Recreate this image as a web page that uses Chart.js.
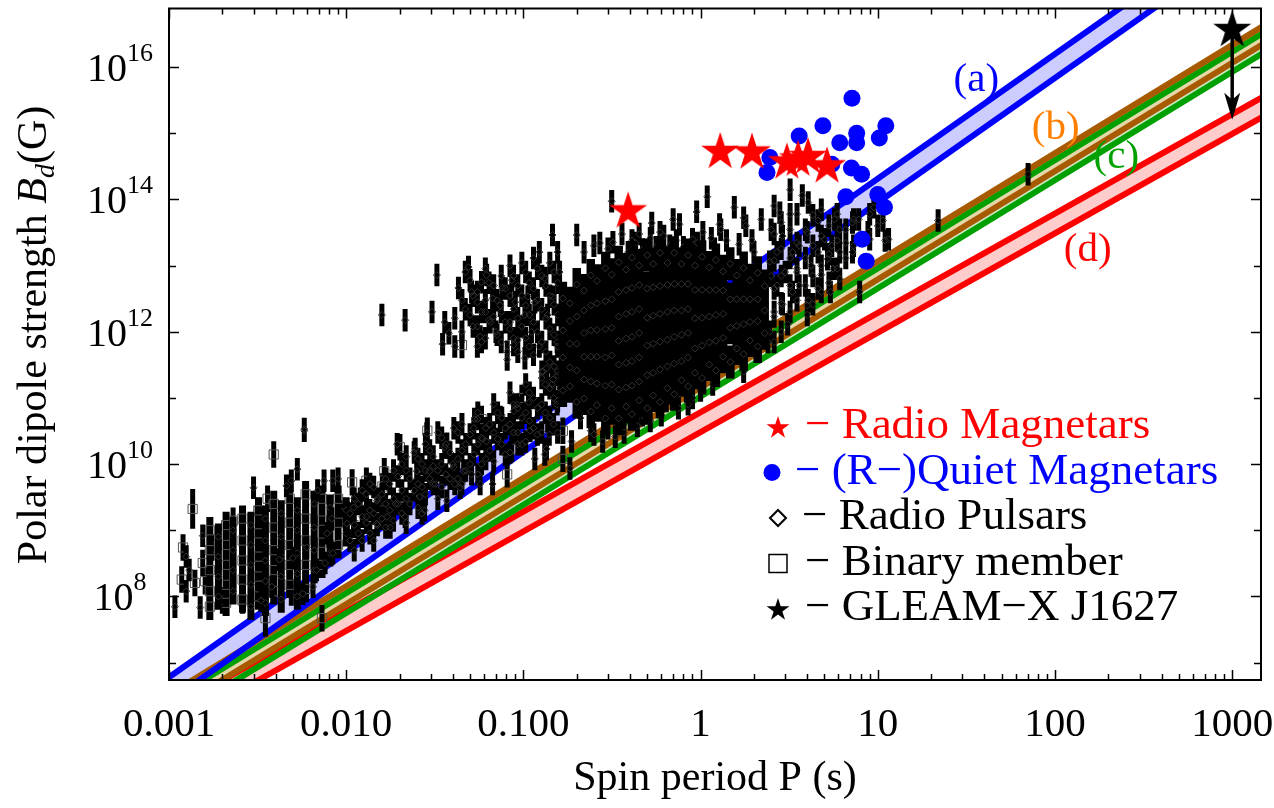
<!DOCTYPE html>
<html>
<head>
<meta charset="utf-8">
<script src="https://cdn.jsdelivr.net/npm/chart.js@4.4.0/dist/chart.umd.min.js"></script>
<style>
  html, body { margin: 0; padding: 0; background: #fff; }
  #wrap { width: 1274px; height: 808px; position: relative; }
</style>
</head>
<body>
<div id="wrap"><canvas id="bdChart"></canvas></div>
<script>
// axes
const xTicks = [0.001, 0.01, 0.1, 1, 10, 100, 1000];
const xTickLabels = ['0.001', '0.010', '0.100', '1', '10', '100', '1000'];
const yTickPowers = [8, 10, 12, 14, 16];

// [P (s), Bd (G)]
const radioMagnetars = [[0.39, 7.1e13], [1.29, 5.6e14], [1.95, 5.5e14], [3.07, 3.9e14], [3.55, 4.3e14], [4.04, 4.7e14], [5.17, 3.4e14]];
const quietMagnetars = [[7.15, 3.4e15], [4.9, 1.3e15], [3.6, 9.1e14], [11.1, 1.3e15], [10.2, 8.5e14], [6.1, 7.2e14], [7.6, 1.0e15],
  [7.6, 7.2e14], [2.46, 4.3e14], [2.37, 2.55e14], [5.5, 3.4e14], [7.1, 3.0e14], [8.1, 2.4e14], [6.6, 1.1e14], [10.0, 1.19e14],
  [10.9, 7.6e13], [8.15, 2.5e13], [8.6, 1.17e13]];
const gleamX = [[1000, 3.9e16]];
const gleamRange = [1.6e15, 3.9e16];

// error bar half length (dex)
const pulsarErr = 0.17;
const mspErr = 0.2;
const coreErr = 0.25;

const radioPulsars = [
  [0.00108, 7e7], [0.00155, 8.3e8], [0.0015, 6.8e7], [0.003, 4.4e9], [0.0053, 8.4e9], [0.0058, 3.4e10], [0.0033, 8.7e7], [0.0038, 1.4e8],
  [0.0046, 4.7e9], [0.0049, 5.6e9], [0.0069, 4e9], [0.0075, 5.6e9], [0.0084, 5.6e9], [0.009, 6e9], [0.0042, 3.6e8], [0.005, 3.8e8],
  [0.0057, 1.1e8], [0.0065, 1.4e8], [0.0083, 1.5e9], [0.0078, 9e8], [0.0084, 4.5e8], [0.0076, 3.2e8], [0.006, 5.5e8], [0.0068, 2.5e8],
  [0.0101, 1.26e9], [0.011, 2.2e9], [0.013, 1.6e9], [0.0149, 1.26e9], [0.0149, 2.8e9], [0.017, 1.6e9], [0.0177, 1.1e9], [0.019, 2.5e9],
  [0.0215, 1.6e9], [0.0218, 1.3e10], [0.025, 7.8e9], [0.026, 3.2e9], [0.0277, 2e9], [0.0295, 7.8e9], [0.031, 9.3e9], [0.032, 5e9],
  [0.036, 1.8e10], [0.037, 2.8e9], [0.04, 1e10], [0.041, 5e9], [0.0194, 2e10], [0.0245, 1.7e10], [0.0285, 2.9e10], [0.046, 7.8e9],
  [0.044, 4.4e9], [0.051, 7e9], [0.057, 5e9], [0.067, 5e9], [0.053, 4.8e10], [0.055, 4.8e10], [0.062, 2.2e10], [0.059, 2.4e10],
  [0.088, 6.3e10], [0.093, 2e10], [0.107, 8.5e10], [0.109, 3.2e10], [0.116, 1.2e10], [0.132, 1.4e10], [0.14, 2.8e10], [0.135, 1.7e10],
  [0.155, 8e10], [0.16, 1.4e11], [0.147, 1.9e11], [0.176, 2.2e11], [0.183, 8.6e9], [0.187, 2.2e10], [0.21, 5e10], [0.25, 2.8e10],
  [0.28, 2.2e10], [0.33, 2.6e10], [0.34, 4e10], [0.129, 2.5e11], [0.135, 2.8e11], [0.145, 1.6e11], [0.092, 8e10], [0.0058, 3.2e10],
  [0.0159, 1.8e12], [0.0215, 1.5e12], [0.0305, 2e12], [0.0325, 7.2e12], [0.036, 1.4e12], [0.038, 9.5e11], [0.035, 6.5e11], [0.043, 4.6e12],
  [0.049, 9.5e12], [0.051, 4e12], [0.055, 2.8e12], [0.058, 5.6e12], [0.061, 2e12], [0.062, 7.2e12], [0.065, 1.4e12], [0.067, 3.2e12],
  [0.07, 1e12], [0.074, 2.5e12], [0.076, 4.6e12], [0.081, 3.8e11], [0.081, 5e11], [0.084, 1.4e12], [0.086, 6e12], [0.09, 2.8e12],
  [0.093, 7.5e11], [0.098, 1.1e13], [0.102, 1.8e12], [0.102, 4e11], [0.106, 3.4e12], [0.111, 1e12], [0.116, 2.8e12], [0.123, 1.6e13],
  [0.123, 6e11], [0.132, 6.5e12], [0.137, 1.8e12], [0.146, 2.9e13], [0.146, 3.4e12], [0.155, 7e11], [0.16, 8e12], [0.057, 8.5e11],
  [0.088, 6.3e11], [0.2, 2.9e13], [0.315, 9.4e13], [0.32, 2.25e13], [0.39, 1.6e13], [0.41, 2.4e13], [0.47, 1.75e13], [0.59, 3.2e13],
  [0.67, 2e13], [0.76, 4.2e13], [0.9, 2.5e13], [1.03, 3.2e13], [1.09, 1.1e14], [1.28, 4.2e13], [1.4, 2.4e13], [1.55, 7.6e13],
  [0.27, 2.2e13], [0.45, 3e13], [1.75, 5.3e13], [0.41, 4.8e10], [0.47, 5.5e10], [0.64, 9e10], [0.67, 1.2e11], [0.85, 8e10],
  [1.0, 1.3e11], [1.23, 2.8e11], [1.17, 1.6e11], [1.5, 3.2e11], [1.75, 2.5e11], [1.6, 6.3e11], [2.1, 9.5e11], [2.4, 7e11],
  [3.2, 1.4e14], [3.2, 6e13], [3.75, 1.15e14], [4.05, 9e13], [2.8, 6.3e13], [2.5, 3.5e13], [2.2, 5e13], [1.8, 4e13], [1.3, 3.5e13],
  [4.3, 5.8e13], [4.6, 4.8e13], [5.0, 2.5e13], [5.7, 5e13], [6.1, 3.5e13], [6.6, 2.2e13], [7.2, 4.5e13], [7.8, 5e13], [8.8, 3.2e13],
  [9.5, 7.6e13], [10.7, 4.8e13], [11.5, 2.5e13], [7.2, 1.6e13], [6.6, 1.3e13], [6.1, 1.6e13], [5.5, 2e13], [5.2, 1.25e13],
  [4.6, 1.6e13], [4.0, 3.2e13], [3.6, 2e13], [3.3, 1.6e13], [2.9, 2.8e13], [2.7, 1.6e13], [2.45, 1.15e13], [4.2, 1e13], [4.8, 7.3e12],
  [5.6, 9e12], [6.1, 6.3e12], [5.4, 4e12], [4.6, 4.5e12], [4.05, 3e12], [3.6, 5e12], [3.3, 4e12], [2.9, 2.6e12], [3.1, 1.3e12],
  [4.0, 2.5e12], [2.45, 1e12], [2.6, 2e12], [4.0, 1.8e12], [7.9, 4e12], [11, 2.4e13], [21.9, 4.8e13], [70.5, 2.4e14], [3.0, 8e12],
  [3.5, 9e12], [2.7, 5e12], [2.5, 7e12], [0.00125, 1.2e8], [0.00125, 4e8], [0.0013, 2.5e8],
  [0.22, 1.6e13], [0.25, 2e13], [0.3, 1.8e13], [0.36, 3e13], [0.43, 2.2e13], [0.52, 2.6e13], [0.56, 1.9e13], [0.62, 2.8e13],
  [0.73, 2.4e13], [0.8, 1.9e13], [0.96, 2.2e13], [1.15, 2.6e13], [1.2, 1.8e13], [1.65, 2.1e13], [1.95, 2.4e13], [2.0, 1.6e13],
  [0.7, 5e13], [0.95, 6.5e13], [0.53, 4.4e13], [0.3, 3.5e10], [0.37, 3e10], [0.44, 3.8e10], [0.52, 4.5e10], [0.6, 5.5e10],
  [0.75, 7e10], [0.9, 1e11], [0.24, 3.2e10]
];

const binaryMembers = [
  [0.00136, 2.1e9, 0.3], [0.0014, 1.6e8], [0.0016, 1.7e8], [0.00155, 3.2e8], [0.00175, 5.5e8], [0.002, 8.7e7], [0.0023, 1.4e9],
  [0.0026, 8.7e7], [0.0032, 1.95e9], [0.0039, 1.4e10], [0.0036, 3e9], [0.0035, 4.7e7, 0.28], [0.0073, 4.7e7], [0.0049, 1.15e8],
  [0.0108, 5.3e9], [0.013, 5.6e9], [0.0164, 7.8e9], [0.016, 4.6e9], [0.0201, 1.8e10], [0.0287, 3.2e10], [0.037, 1.9e10],
  [0.045, 6.3e11], [0.058, 4.8e10], [0.074, 4.8e10], [0.086, 1.7e10], [0.081, 7e9], [0.098, 1e11], [0.137, 4.8e10], [0.167, 3.2e10],
  [0.167, 1.2e10], [0.0159, 2e9], [0.012, 2.8e9], [0.0095, 1.8e9], [0.011, 1.2e9], [0.00118, 1.8e8], [0.0012, 5.5e8]
];

// crowded parts of the population, [P, [Bd...]]
const mspPulsarColumns = [
  [0.0019, [8e8, 4e8, 2e8, 1e8]], [0.0023, [1e9, 5e8, 2.5e8, 1.2e8]], [0.0029, [1.2e9, 6e8, 3e8, 1.5e8, 7e7]],
  [0.0035, [1.5e9, 7e8, 3.5e8, 1.7e8, 8e7]], [0.0043, [1.8e9, 8e8, 4e8, 2e8, 9e7]], [0.0053, [2e9, 1e9, 4.5e8, 2.2e8, 1e8]],
  [0.0066, [2.5e9, 1.1e9, 5e8, 2.5e8]], [0.0081, [2.2e9, 1e9, 4.5e8]], [0.01, [2e9, 9e8]]
];
const mspBinaryColumns = [
  [0.0017, [1e9, 5e8, 2.5e8, 1.2e8, 7e7]], [0.0021, [1.2e9, 6e8, 3e8, 1.5e8, 8e7]], [0.0026, [1.5e9, 7e8, 3.5e8, 1.8e8, 9e7]],
  [0.0032, [2e9, 9e8, 4e8, 2e8, 1e8]], [0.0039, [2.5e9, 1.1e9, 5e8, 2.5e8, 1.2e8]], [0.0048, [3e9, 1.3e9, 6e8, 3e8, 1.5e8]],
  [0.0059, [3.5e9, 1.5e9, 7e8, 3e8, 1.3e8]], [0.0073, [3e9, 1.4e9, 6.5e8, 3e8]], [0.009, [3e9, 1.3e9, 6e8]]
];
const midColumns = [
  [0.0111, [3e9, 1.2e9, 5e8]], [0.0123, [4e9, 1.6e9, 7e8]], [0.0136, [5e9, 2e9, 9e8]], [0.015, [3e9, 1.2e9]],
  [0.0167, [6e9, 2.5e9, 1.1e9]], [0.0185, [8e9, 3e9, 1.4e9]], [0.0206, [1e10, 4e9, 1.8e9]], [0.0229, [6e9, 2.5e9]],
  [0.0254, [1.2e10, 5e9, 2.2e9]], [0.028, [2e10, 8e9, 3.5e9]], [0.031, [1.3e10, 5e9]], [0.0346, [2.5e10, 1e10, 4.5e9]],
  [0.0385, [1.5e10, 6e9]], [0.0427, [3e10, 1.2e10, 6e9]], [0.0473, [2e10, 8e9]], [0.0525, [3.5e10, 1.4e10]],
  [0.058, [2.5e10, 1e10]], [0.0645, [4e10, 1.6e10]], [0.0715, [6e10, 2.4e10]], [0.079, [3.5e10, 1.4e10]],
  [0.088, [8e10, 3e10]], [0.098, [5e10, 2e10]], [0.108, [1.2e11, 4.5e10]], [0.12, [7e10, 2.8e10]],
  [0.133, [1.6e11, 6e10]], [0.148, [1e11, 4e10]],
  [0.0105, [1.8e9, 7e8]], [0.0117, [2.5e9, 9e8]], [0.013, [3.5e9, 1.3e9]], [0.0143, [4.5e9, 1.8e9, 7e8]],
  [0.0159, [3.5e9, 1.5e9]], [0.0176, [5e9, 2e9]], [0.0196, [6.5e9, 2.5e9]], [0.0218, [8e9, 3e9, 1.3e9]],
  [0.0242, [1.5e10, 4e9]], [0.0268, [1e10, 4.5e9, 1.8e9]], [0.0296, [1.6e10, 6e9]], [0.0329, [3e10, 8e9, 3e9]],
  [0.0365, [2e10, 7e9]], [0.0405, [3.5e10, 9e9]], [0.045, [4e10, 1.6e10, 5e9]], [0.05, [2.8e10, 1e10]],
  [0.0553, [6e10, 2e10, 7e9]], [0.0614, [3.5e10, 1.2e10]], [0.068, [8e10, 3e10, 1.1e10]], [0.0755, [5e10, 2e10]],
  [0.084, [1.2e11, 4e10, 1.5e10]], [0.093, [7e10, 3e10]], [0.103, [1.6e11, 6e10, 2.2e10]], [0.114, [1e11, 3.5e10]],
  [0.127, [2e11, 8e10, 3e10]], [0.141, [1.4e11, 5e10]], [0.156, [2.5e11, 9e10, 3e10]]
];
const cloudColumns = [
  [0.045, [3e12, 1e12]], [0.05, [6e12, 1.8e12]], [0.055, [4e12, 1.2e12, 6e11]], [0.061, [9e12, 3e12, 8e11]],
  [0.068, [5e12, 1.7e12]], [0.075, [7e12, 2e12, 7e11]], [0.084, [1e13, 3.5e12, 1.1e12]], [0.093, [5e12, 1.6e12, 5e11]],
  [0.103, [8e12, 2.5e12, 8e11]], [0.114, [1.3e13, 4.5e12, 1.4e12, 4.5e11]], [0.127, [7e12, 2.2e12, 7e11, 2.5e11]],
  [0.141, [1.1e13, 3.5e12, 1.1e12, 3.5e11]], [0.156, [1.6e13, 5.5e12, 1.8e12, 6e11, 2.2e11]],
  [0.041, [1.6e12, 6e11]], [0.047, [2.2e12, 8e12]], [0.052, [1.2e12, 3.5e12]], [0.058, [2e12, 7e11]],
  [0.064, [5.5e12, 1.5e12]], [0.071, [3e12, 9e11]], [0.079, [4.5e12, 1.4e12]], [0.088, [7e12, 2.2e12, 8e11]],
  [0.098, [3.5e12, 1.2e12]], [0.108, [5.5e12, 1.8e12, 6e11]], [0.12, [9e12, 3e12, 1e12]], [0.134, [5e12, 1.6e12, 5e11]],
  [0.149, [8e12, 2.6e12, 9e11, 3e11]]
];
const rightColumns = [
  [2.6, [8e13, 3e13, 1.2e13, 4.5e12, 1.7e12, 7e11]], [2.85, [4.5e13, 1.8e13, 7e12, 2.7e12, 1e12]],
  [3.2, [3.5e13, 1.3e13, 5e12, 2e12]], [3.5, [6e13, 2.2e13, 8e12, 3e12]], [3.9, [3.5e13, 1.3e13, 5e12]],
  [4.3, [2e13, 7e12, 2.6e12]], [4.8, [7e13, 2.8e13, 1e13, 4e12]], [5.3, [4e13, 1.5e13, 5.5e12]],
  [5.9, [6e13, 2.4e13, 9e12]], [6.6, [3.5e13]], [7.3, [5e13, 2e13]], [9.0, [6e13, 2.5e13]], [10, [4e13]]
];
const coreColumns = [
  [0.167, [3.2e12, 1.05e12, 4.1e11, 1.3e11]], [0.183, [2.7e12, 1.45e12, 6.6e11, 2.9e11, 1.5e11]],
  [0.2, [5.2e12, 1.7e12, 6.6e11, 2.6e11, 8.7e10]], [0.22, [4.2e12, 2.1e12, 9.6e11, 4.2e11, 1.9e11, 9.8e10]],
  [0.24, [7.1e12, 2.5e12, 1.05e12, 4.2e11, 1.77e11, 6.2e10]], [0.26, [5.9e12, 2.7e12, 1.07e12, 4.2e11, 1.65e11, 7.8e10]],
  [0.29, [9.1e12, 2.9e12, 1.1e12, 4.1e11, 1.54e11, 4.9e10]], [0.315, [7.3e12, 3.1e12, 1.15e12, 4.4e11, 1.6e11, 7e10]],
  [0.345, [1.12e13, 4e12, 1.7e12, 7.3e11, 3.2e11, 1.34e11, 4.9e10]], [0.38, [8.7e12, 4.3e12, 1.87e12, 7.9e11, 3.4e11, 1.44e11, 7.4e10]],
  [0.41, [1.32e13, 4.6e12, 2e12, 8.4e11, 3.6e11, 1.54e11, 5.7e10]], [0.45, [1e13, 5.1e12, 2.2e12, 9.6e11, 4.1e11, 1.77e11, 9.2e10]],
  [0.5, [1.44e13, 4.5e12, 1.63e12, 6.2e11, 2.2e11, 7e10]], [0.54, [1.06e13, 4.7e12, 1.75e12, 6.6e11, 2.4e11, 1.09e11]],
  [0.59, [1.56e13, 4.9e12, 1.87e12, 7.1e11, 2.7e11, 8.7e10]], [0.65, [1.1e13, 5.1e12, 2e12, 7.6e11, 3e11, 1.4e11]],
  [0.71, [1.56e13, 5.3e12, 2.1e12, 8.4e11, 3.3e11, 1.14e11]], [0.78, [1.06e13, 5.3e12, 2.1e12, 9e11, 3.6e11, 1.85e11]],
  [0.85, [1.44e13, 5.3e12, 2.2e12, 9.6e11, 4.1e11, 1.5e11]], [0.93, [1e13, 4.3e12, 1.6e12, 5.6e11, 2.4e11]],
  [1.02, [1.36e13, 4.3e12, 1.63e12, 6.2e11, 2e11]], [1.12, [9.4e12, 4.3e12, 1.7e12, 6.9e11, 3.2e11]],
  [1.22, [1.22e13, 4.3e12, 1.8e12, 7.3e11, 2.6e11]], [1.34, [8.2e12, 4.2e12, 1.87e12, 8.1e11, 4.2e11]],
  [1.47, [1.07e13, 3.1e12, 1.15e12, 3.5e11]], [1.6, [7.1e12, 3.1e12, 1.23e12, 5.6e11]],
  [1.75, [9.2e12, 3.1e12, 1.3e12, 4.6e11]], [1.9, [6e12, 3.1e12, 1.41e12, 7.4e11]],
  [2.1, [7.8e12, 3.1e12, 1.45e12, 6e11]], [2.3, [4.9e12, 2.1e12, 9.5e11]]
];

// model bands (a)-(d): end points of the upper and lower edge lines
const bandA = {upper: [[0.001, 6.0e6], [1500, 2.6e18]], lower: [[0.001, 2.6e6], [1500, 1.13e18]]};
const bandB = {upper: [[0.001, 3.3e6], [1500, 4.2e16]], lower: [[0.001, 1.77e6], [1500, 2.26e16]]};
const bandC = {upper: [[0.001, 2.6e6], [1500, 3.3e16]], lower: [[0.001, 1.3e6], [1500, 1.65e16]]};
const bandD = {upper: [[0.001, 1.9e6], [1500, 3.58e15]], lower: [[0.001, 9.5e5], [1500, 1.8e15]]};

const SERIF = '"Liberation Serif", "Times New Roman", serif';

const bandLabels = [
  {text: '(a)', p: 36, b: 6.3e15, color: '#0000ff'},
  {text: '(b)', p: 101, b: 1.2e15, color: '#ff8000'},
  {text: '(c)', p: 222, b: 4.3e14, color: '#00a000'},
  {text: '(d)', p: 153, b: 1.7e13, color: '#ff0000'}
];
const legendRows = [
  {symbol: 'star', color: '#ff0000', text: '\u2212 Radio Magnetars', x: 805},
  {symbol: 'circle', color: '#0000ff', text: '\u2212 (R\u2212)Quiet Magnetars', x: 795},
  {symbol: 'diamond', color: '#000', text: '\u2212 Radio Pulsars', x: 802},
  {symbol: 'square', color: '#000', text: '\u2212 Binary member', x: 805},
  {symbol: 'star', color: '#000', text: '\u2212 GLEAM\u2212X J1627', x: 805}
];

function starPath(g, cx, cy, R) {
  g.beginPath();
  for (let i = 0; i < 10; i++) {
    const r = i % 2 ? R * 0.382 : R;
    const a = -Math.PI / 2 + i * Math.PI / 5;
    g.lineTo(cx + r * Math.cos(a), cy + r * Math.sin(a));
  }
  g.closePath();
}
function starImage(color, R) {
  const c = document.createElement('canvas');
  const s = Math.ceil(R * 2 + 2);
  c.width = s; c.height = s;
  const g = c.getContext('2d');
  g.fillStyle = color;
  starPath(g, s / 2, s / 2 + R * 0.1, R);
  g.fill();
  return c;
}

const pts = (list, err) => list.map(([x, y, e]) => ({x, y, e: e ?? err}));
const cols = (list, err) => {
  const out = [];
  list.forEach(([p, bs]) => bs.forEach(b => out.push({x: p, y: b, e: err})));
  return out;
};

function bandSets(band, color, fillColor) {
  const base = {type: 'line', borderColor: color, borderWidth: 6, pointRadius: 0, order: 10, tension: 0};
  return [
    {...base, data: pts(band.upper), fill: false},
    {...base, data: pts(band.lower), fill: '-1', backgroundColor: fillColor}
  ];
}
const diamondStyle = {pointStyle: 'rectRot', pointRadius: 3.5, borderColor: '#333', borderWidth: 1, backgroundColor: 'rgba(0,0,0,0)'};
const squareStyle = {pointStyle: 'rect', pointRadius: 6.5, borderColor: '#555', borderWidth: 1, backgroundColor: 'rgba(0,0,0,0)'};

const overlayPlugin = {
  id: 'overlay',
  beforeDatasetDraw(chart, args) {
    const ds = chart.data.datasets[args.index];
    const {ctx, chartArea: a, scales: {x, y}} = chart;
    if (ds.barWidth) {
      ctx.save();
      ctx.beginPath();
      ctx.rect(a.left, a.top, a.right - a.left, a.bottom - a.top);
      ctx.clip();
      ctx.strokeStyle = '#000';
      ctx.lineWidth = ds.barWidth;
      ctx.beginPath();
      ds.data.forEach(p => {
        const px = x.getPixelForValue(p.x);
        ctx.moveTo(px, y.getPixelForValue(p.y * Math.pow(10, p.e)));
        ctx.lineTo(px, y.getPixelForValue(p.y / Math.pow(10, p.e)));
      });
      ctx.stroke();
      ctx.restore();
    }
    if (ds.rangeArrow) {
      const px = x.getPixelForValue(ds.data[0].x);
      const y0 = y.getPixelForValue(ds.rangeArrow[1]);
      const y1 = y.getPixelForValue(ds.rangeArrow[0]);
      ctx.save();
      ctx.strokeStyle = '#000';
      ctx.fillStyle = '#000';
      ctx.lineWidth = 3.5;
      ctx.beginPath();
      ctx.moveTo(px, y0);
      ctx.lineTo(px, y1 - 18);
      ctx.stroke();
      ctx.beginPath();
      ctx.moveTo(px, y1);
      ctx.lineTo(px - 8, y1 - 27);
      ctx.lineTo(px, y1 - 20);
      ctx.lineTo(px + 8, y1 - 27);
      ctx.closePath();
      ctx.fill();
      ctx.restore();
    }
  },
  afterDraw(chart) {
    const {ctx, chartArea: a, scales: {x, y}} = chart;
    ctx.save();
    // frame and inward ticks
    ctx.strokeStyle = '#000';
    ctx.lineWidth = 1.5;
    ctx.beginPath();
    for (let d = 0.001; d < 2000; d *= 10) {
      for (let m = 1; m <= 9; m++) {
        const v = d * m;
        if (v > x.max) break;
        const px = Math.round(x.getPixelForValue(v)) + 0.5;
        const len = m === 1 ? 10 : 6;
        ctx.moveTo(px, a.bottom); ctx.lineTo(px, a.bottom - len);
        ctx.moveTo(px, a.top); ctx.lineTo(px, a.top + len);
      }
    }
    for (let k = 7; k <= 16; k++) {
      const py = Math.round(y.getPixelForValue(Math.pow(10, k))) + 0.5;
      const len = k % 2 === 0 ? 10 : 7;
      ctx.moveTo(a.left, py); ctx.lineTo(a.left + len, py);
      ctx.moveTo(a.right, py); ctx.lineTo(a.right - len, py);
    }
    ctx.stroke();
    ctx.lineWidth = 2;
    ctx.strokeRect(a.left, a.top, a.right - a.left, a.bottom - a.top);

    // tick labels
    ctx.fillStyle = '#000';
    ctx.textBaseline = 'alphabetic';
    ctx.textAlign = 'center';
    ctx.font = '41px ' + SERIF;
    xTicks.forEach((v, i) => ctx.fillText(xTickLabels[i], x.getPixelForValue(v), 736));
    yTickPowers.forEach(k => {
      const py = y.getPixelForValue(Math.pow(10, k));
      ctx.font = '40px ' + SERIF;
      const w1 = ctx.measureText('10').width;
      ctx.font = '26px ' + SERIF;
      const w2 = ctx.measureText(String(k)).width;
      const x0 = 120 - (w1 + w2) / 2;
      ctx.textAlign = 'left';
      ctx.font = '40px ' + SERIF;
      ctx.fillText('10', x0, py + 14);
      ctx.font = '26px ' + SERIF;
      ctx.fillText(String(k), x0 + w1, py - 6);
    });

    // axis titles
    ctx.textAlign = 'center';
    ctx.font = '42px ' + SERIF;
    ctx.fillText('Spin period P (s)', 715, 790);

    const parts = [
      {t: 'Polar dipole strength ', f: '42px ' + SERIF, dy: 0},
      {t: 'B', f: 'italic 42px ' + SERIF, dy: 0},
      {t: 'd', f: 'italic 28px ' + SERIF, dy: 8},
      {t: '(G)', f: '42px ' + SERIF, dy: 0}
    ];
    let total = 0;
    parts.forEach(p => { ctx.font = p.f; p.w = ctx.measureText(p.t).width; total += p.w; });
    ctx.save();
    ctx.translate(46, 335);
    ctx.rotate(-Math.PI / 2);
    ctx.textAlign = 'left';
    let cx = -total / 2;
    parts.forEach(p => { ctx.font = p.f; ctx.fillText(p.t, cx, p.dy); cx += p.w; });
    ctx.restore();

    // band labels
    ctx.font = '41px ' + SERIF;
    ctx.textAlign = 'center';
    ctx.textBaseline = 'middle';
    bandLabels.forEach(l => {
      ctx.fillStyle = l.color;
      ctx.fillText(l.text, x.getPixelForValue(l.p), y.getPixelForValue(l.b));
    });

    // legend
    ctx.textAlign = 'left';
    ctx.textBaseline = 'alphabetic';
    ctx.font = '45px ' + SERIF;
    legendRows.forEach((r, i) => {
      const base = 438 + i * 45.5;
      const sy = base - 11;
      const sx = 778;
      ctx.fillStyle = r.color;
      ctx.strokeStyle = r.color;
      if (r.symbol === 'star') { starPath(ctx, sx, sy + 1, 12); ctx.fill(); }
      if (r.symbol === 'circle') { ctx.beginPath(); ctx.arc(sx - 6, sy, 8.5, 0, Math.PI * 2); ctx.fill(); }
      if (r.symbol === 'diamond') {
        ctx.lineWidth = 2;
        ctx.beginPath();
        ctx.moveTo(sx, sy - 8); ctx.lineTo(sx + 8, sy); ctx.lineTo(sx, sy + 8); ctx.lineTo(sx - 8, sy); ctx.closePath();
        ctx.stroke();
      }
      if (r.symbol === 'square') { ctx.lineWidth = 1.5; ctx.strokeRect(sx - 9, sy - 9, 18, 18); }
      ctx.fillText(r.text, r.x, base);
    });
    ctx.restore();
  }
};

new Chart(document.getElementById('bdChart'), {
  type: 'scatter',
  data: {
    datasets: [
      {data: pts(gleamX), pointStyle: starImage('#000', 20), order: 0, rangeArrow: gleamRange},
      {data: pts(radioMagnetars), pointStyle: starImage('#ff0000', 20), order: 1},
      {data: pts(quietMagnetars), pointStyle: 'circle', pointRadius: 8.5, backgroundColor: '#0000ff', borderWidth: 0, order: 2},
      {data: cols(coreColumns, coreErr), barWidth: 8.5, ...diamondStyle, order: 3},
      {data: pts(radioPulsars, pulsarErr).concat(cols(midColumns, pulsarErr), cols(cloudColumns, pulsarErr), cols(rightColumns, pulsarErr)),
        barWidth: 5, ...diamondStyle, order: 4},
      {data: cols(mspPulsarColumns, mspErr), barWidth: 7, ...diamondStyle, order: 5},
      {data: cols(mspBinaryColumns, mspErr), barWidth: 7, ...squareStyle, order: 6},
      {data: pts(binaryMembers, mspErr), barWidth: 5, ...squareStyle, order: 7},
      ...bandSets(bandA, '#0000ff', '#ccccff'),
      ...bandSets(bandB, '#a85a00', 'rgba(255,200,150,0.5)'),
      ...bandSets(bandC, '#00a000', 'rgba(150,210,130,0.5)'),
      ...bandSets(bandD, '#ff0000', '#ffcccc')
    ]
  },
  options: {
    responsive: true,
    maintainAspectRatio: false,
    animation: false,
    events: [],
    layout: {padding: {left: 169, right: 13, top: 5, bottom: 128}},
    scales: {
      x: {type: 'logarithmic', min: 0.001, max: 1454, display: false},
      y: {type: 'logarithmic', min: 5.46e6, max: 7.7e16, display: false}
    },
    plugins: {
      legend: {display: false},
      tooltip: {enabled: false},
      filler: {drawTime: 'beforeDatasetsDraw'}
    }
  },
  plugins: [overlayPlugin]
});
</script>
</body>
</html>
